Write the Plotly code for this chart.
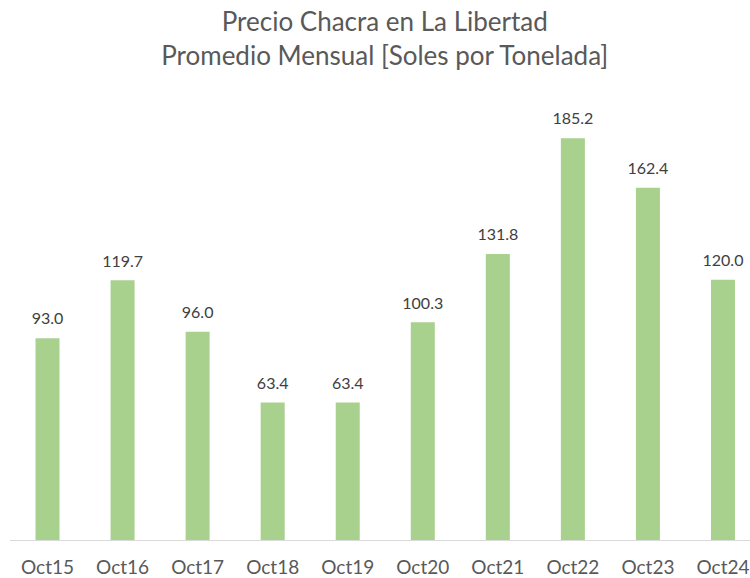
import plotly.graph_objects as go

categories = ["Oct15", "Oct16", "Oct17", "Oct18", "Oct19", "Oct20", "Oct21", "Oct22", "Oct23", "Oct24"]
values = [93.0, 119.7, 96.0, 63.4, 63.4, 100.3, 131.8, 185.2, 162.4, 120.0]
labels = [f"{v:.1f}" for v in values]

fig = go.Figure()
fig.add_trace(go.Bar(
    x=categories, y=values,
    marker=dict(color="#A9D18E", line=dict(width=0)),
    width=0.32, hoverinfo="x+y",
))
fig.add_trace(go.Scatter(
    x=categories, y=values, text=labels, mode="markers+text",
    textposition="top center",
    marker=dict(size=14, opacity=0),
    textfont=dict(size=16, color="#404040", family="Lato"),
    cliponaxis=False, hoverinfo="skip",
))

fig.update_layout(
    width=750, height=578,
    margin=dict(l=10, r=0, t=108, b=36),
    paper_bgcolor="white", plot_bgcolor="white",
    title=dict(text="Precio Chacra en La Libertad<br>Promedio Mensual [Soles por Tonelada]",
               x=0.513, xanchor="center", yref="container", y=0.946, yanchor="middle",
               font=dict(size=26, color="#595959", family="Lato")),
    showlegend=False,
    xaxis=dict(range=[-0.5, 9.36], showline=True, linecolor="#D9D9D9", linewidth=1,
               ticks="", ticklabelstandoff=10,
               tickfont=dict(size=19, color="#595959", family="Lato"), showgrid=False),
    yaxis=dict(range=[0, 199.1], visible=False, showgrid=False, zeroline=False),
)

fig.write_html("out.html", config={"displayModeBar": False},
               post_script="document.body.style.margin='0';")
